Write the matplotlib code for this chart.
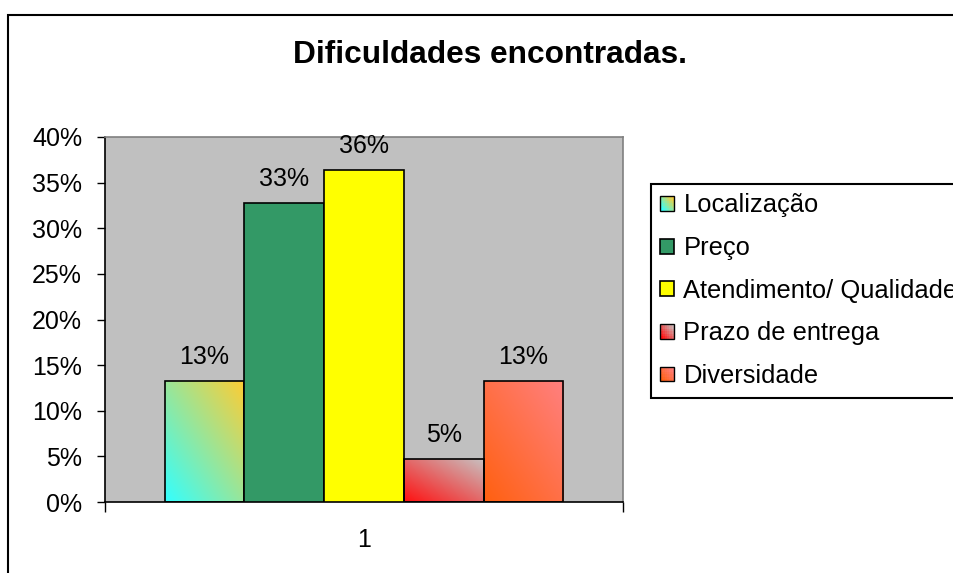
import matplotlib.pyplot as plt
import numpy as np
from matplotlib.patches import Rectangle
from matplotlib.legend_handler import HandlerBase
from matplotlib.ticker import PercentFormatter

# dados do grafico
categorias = ['Localização', 'Preço', 'Atendimento/ Qualidade', 'Prazo de entrega', 'Diversidade']
valores = [0.1325, 0.328, 0.364, 0.047, 0.1325]
yticks = [0, 0.05, 0.10, 0.15, 0.20, 0.25, 0.30, 0.35, 0.40]
grupo = '1'

# cores: solidas ou gradiente (inferior esquerdo -> superior direito)
cores = [('#33ffff', '#ffcc33'), '#339966', '#ffff00', ('#ff1010', '#c8c0c0'), ('#ff6010', '#ff8080')]

plt.rcParams['font.family'] = ['Liberation Sans', 'DejaVu Sans']
FS = 18

fig = plt.figure(figsize=(9.54, 5.73), dpi=100)
ax = fig.add_axes([105 / 954, 71 / 573, 518 / 954, 365 / 573])
ax.set_facecolor('#c0c0c0')

n = len(valores)
w = 1 / (n + 1.5)
xs = 1 + (np.arange(n) - (n - 1) / 2) * w

def hex2rgb(c):
    return np.array([int(c[i:i + 2], 16) / 255 for i in (1, 3, 5)])

def grad_img(c0, c1, res=100):
    u, v = np.meshgrid(np.linspace(0, 1, res), np.linspace(0, 1, res))
    t = (u + v) / 2
    a, b = hex2rgb(c0), hex2rgb(c1)
    return a[None, None, :] * (1 - t[..., None]) + b[None, None, :] * t[..., None]

ax.set_xlim(0.5, 1.5)
ax.set_ylim(0, 0.4)
ax.set_autoscale_on(False)

bars = ax.bar(xs, valores, w, color=[c if isinstance(c, str) else 'none' for c in cores],
              edgecolor='black', linewidth=1.2, zorder=3)

for b, c in zip(bars, cores):
    if isinstance(c, tuple):
        x0, y0 = b.get_x(), b.get_y()
        im = ax.imshow(grad_img(*c), extent=(x0, x0 + b.get_width(), y0, y0 + b.get_height()),
                       origin='lower', aspect='auto', zorder=2)
        im.set_clip_path(b)

# rotulos de dados
for x, v in zip(xs, valores):
    ax.annotate(f'{round(v * 100):.0f}%', (x, v), xytext=(0, 17), textcoords='offset pixels',
                ha='center', va='baseline', fontsize=FS)

# eixos
ax.set_yticks(yticks)
ax.yaxis.set_major_formatter(PercentFormatter(1.0, decimals=0))
ax.tick_params(axis='y', direction='out', length=6, width=1, pad=10.5, labelsize=FS)
ax.set_xticks([0.5, 1.5])
ax.set_xticklabels(['', ''])
ax.set_xticks([1], [grupo], minor=True)
ax.tick_params(axis='x', which='major', direction='out', length=7, width=1)
ax.tick_params(axis='x', which='minor', length=0, pad=19, labelsize=FS)
ax.spines['left'].set_linewidth(1.2)
ax.spines['bottom'].set_linewidth(1.2)
for s in ('top', 'right'):
    ax.spines[s].set_color('#808080')
    ax.spines[s].set_linewidth(1.2)

fig.text(490 / 954, 1 - 63 / 573, 'Dificuldades encontradas.', ha='center', va='baseline',
         fontsize=22.8, fontweight='bold')

# legenda com marcadores em gradiente
class HandlerGrad(HandlerBase):
    def __init__(self, c0, c1):
        super().__init__()
        self.c0, self.c1 = hex2rgb(c0), hex2rgb(c1)

    def create_artists(self, legend, orig_handle, xdescent, ydescent, width, height, fontsize, trans):
        k = 6
        arts = []
        for i in range(k):
            for j in range(k):
                t = (i + j) / (2 * (k - 1))
                col = self.c0 * (1 - t) + self.c1 * t
                arts.append(Rectangle((-xdescent + i * width / k, -ydescent + j * height / k),
                                      width / k, height / k, facecolor=col, edgecolor='none', transform=trans))
        arts.append(Rectangle((-xdescent, -ydescent), width, height, facecolor='none',
                              edgecolor='black', linewidth=1, transform=trans))
        return arts

hmap = {b: HandlerGrad(*c) for b, c in zip(bars, cores) if isinstance(c, tuple)}
leg = fig.legend(list(bars), categorias, handler_map=hmap, loc='upper left',
                 bbox_to_anchor=(651 / 954, 1 - 184 / 573), borderaxespad=0, fontsize=18.4,
                 handlelength=0.52, handleheight=0.52, handletextpad=0.38, labelspacing=0.73,
                 borderpad=0.37, fancybox=False, framealpha=1)
leg.get_frame().set_edgecolor('black')
leg.get_frame().set_linewidth(1.5)

# borda externa do grafico
fig.patches.append(Rectangle((8 / 954, -0.1), 2, 1 - 15 / 573 + 0.1, transform=fig.transFigure,
                             fill=False, edgecolor='black', linewidth=1.5))

plt.savefig('out.png', dpi=100)
plt.close()
